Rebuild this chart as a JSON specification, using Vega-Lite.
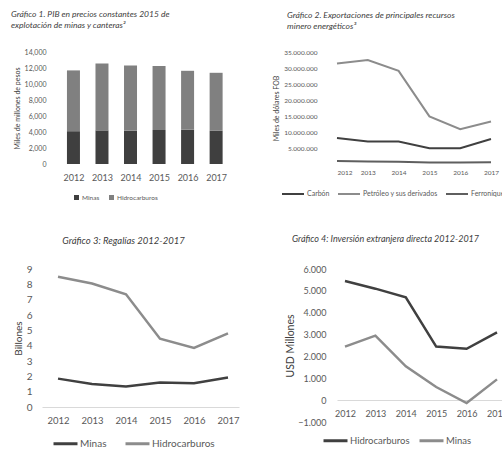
{
  "$schema": "https://vega.github.io/schema/vega-lite/v6.json",
  "background": "white",
  "padding": {"left": 11, "top": 9, "right": 0, "bottom": 0},
  "config": {
    "font": "Lato",
    "view": {"stroke": null},
    "axis": {"labelColor": "#595959", "titleColor": "#404040", "grid": false, "ticks": false, "domain": false, "labelFont": "Lato", "titleFont": "Lato", "titleFontWeight": "normal"},
    "title": {"font": "Lato", "fontStyle": "italic", "fontWeight": "normal", "color": "#404040", "frame": "group"},
    "legend": {"labelColor": "#595959", "labelFont": "Lato"}
  },
  "datasets": {
    "pib": [
      {"anio": 2012, "serie": "Minas", "valor": 4100}, {"anio": 2012, "serie": "Hidrocarburos", "valor": 7600},
      {"anio": 2013, "serie": "Minas", "valor": 4200}, {"anio": 2013, "serie": "Hidrocarburos", "valor": 8350},
      {"anio": 2014, "serie": "Minas", "valor": 4150}, {"anio": 2014, "serie": "Hidrocarburos", "valor": 8150},
      {"anio": 2015, "serie": "Minas", "valor": 4250}, {"anio": 2015, "serie": "Hidrocarburos", "valor": 8000},
      {"anio": 2016, "serie": "Minas", "valor": 4300}, {"anio": 2016, "serie": "Hidrocarburos", "valor": 7350},
      {"anio": 2017, "serie": "Minas", "valor": 4150}, {"anio": 2017, "serie": "Hidrocarburos", "valor": 7250}
    ],
    "exp": [
      {"anio": 2012, "serie": "Carbón", "valor": 8100000}, {"anio": 2013, "serie": "Carbón", "valor": 7000000},
      {"anio": 2014, "serie": "Carbón", "valor": 7000000}, {"anio": 2015, "serie": "Carbón", "valor": 4900000},
      {"anio": 2016, "serie": "Carbón", "valor": 4900000}, {"anio": 2017, "serie": "Carbón", "valor": 7800000},
      {"anio": 2012, "serie": "Petróleo y sus derivados", "valor": 31400000}, {"anio": 2013, "serie": "Petróleo y sus derivados", "valor": 32500000},
      {"anio": 2014, "serie": "Petróleo y sus derivados", "valor": 29100000}, {"anio": 2015, "serie": "Petróleo y sus derivados", "valor": 14900000},
      {"anio": 2016, "serie": "Petróleo y sus derivados", "valor": 10900000}, {"anio": 2017, "serie": "Petróleo y sus derivados", "valor": 13300000},
      {"anio": 2012, "serie": "Ferroníquel", "valor": 900000}, {"anio": 2013, "serie": "Ferroníquel", "valor": 750000},
      {"anio": 2014, "serie": "Ferroníquel", "valor": 700000}, {"anio": 2015, "serie": "Ferroníquel", "valor": 500000},
      {"anio": 2016, "serie": "Ferroníquel", "valor": 450000}, {"anio": 2017, "serie": "Ferroníquel", "valor": 550000}
    ],
    "reg": [
      {"anio": 2012, "serie": "Minas", "valor": 1.85}, {"anio": 2013, "serie": "Minas", "valor": 1.5},
      {"anio": 2014, "serie": "Minas", "valor": 1.33}, {"anio": 2015, "serie": "Minas", "valor": 1.6},
      {"anio": 2016, "serie": "Minas", "valor": 1.55}, {"anio": 2017, "serie": "Minas", "valor": 1.92},
      {"anio": 2012, "serie": "Hidrocarburos", "valor": 8.5}, {"anio": 2013, "serie": "Hidrocarburos", "valor": 8.05},
      {"anio": 2014, "serie": "Hidrocarburos", "valor": 7.35}, {"anio": 2015, "serie": "Hidrocarburos", "valor": 4.45},
      {"anio": 2016, "serie": "Hidrocarburos", "valor": 3.85}, {"anio": 2017, "serie": "Hidrocarburos", "valor": 4.8}
    ],
    "ied": [
      {"anio": 2012, "serie": "Hidrocarburos", "valor": 5450}, {"anio": 2013, "serie": "Hidrocarburos", "valor": 5100},
      {"anio": 2014, "serie": "Hidrocarburos", "valor": 4700}, {"anio": 2015, "serie": "Hidrocarburos", "valor": 2450},
      {"anio": 2016, "serie": "Hidrocarburos", "valor": 2350}, {"anio": 2017, "serie": "Hidrocarburos", "valor": 3100},
      {"anio": 2012, "serie": "Minas", "valor": 2450}, {"anio": 2013, "serie": "Minas", "valor": 2950},
      {"anio": 2014, "serie": "Minas", "valor": 1550}, {"anio": 2015, "serie": "Minas", "valor": 600},
      {"anio": 2016, "serie": "Minas", "valor": -130}, {"anio": 2017, "serie": "Minas", "valor": 950}
    ]
  },
  "columns": 2,
  "align": "none",
  "bounds": "flush",
  "spacing": {"row": 105, "column": 98},
  "resolve": {"scale": {"color": "independent"}, "legend": {"color": "independent"}},
  "concat": [
    {
      "width": 181, "height": 112,
      "title": {"text": ["Gráfico 1. PIB en precios constantes 2015 de", "explotación de minas y canteras²"], "anchor": "start", "dx": -31, "fontSize": 8.5, "lineHeight": 11, "offset": 19},
      "data": {"name": "pib"},
      "mark": {"type": "bar", "size": 13},
      "encoding": {
        "x": {"field": "anio", "type": "quantitative", "scale": {"domain": [2011.073, 2017.066], "nice": false, "zero": false},
              "axis": {"values": [2012, 2013, 2014, 2015, 2016, 2017], "format": "d", "title": null, "labelFontSize": 9, "labelPadding": 9}},
        "y": {"field": "valor", "type": "quantitative", "stack": "zero", "scale": {"domain": [0, 14000], "nice": false},
              "axis": {"values": [0, 2000, 4000, 6000, 8000, 10000, 12000, 14000], "format": ",d", "title": "Miles de millones de pesos", "labelFontSize": 7, "titleFontSize": 7, "offset": -6, "labelPadding": 2, "titlePadding": 4}},
        "color": {"field": "serie", "type": "nominal", "scale": {"domain": ["Minas", "Hidrocarburos"], "range": ["#3f3f3f", "#808080"]},
                  "legend": {"orient": "none", "legendX": 31, "legendY": 142, "direction": "horizontal", "title": null, "symbolType": "square", "symbolSize": 25, "labelFontSize": 6.5, "columnPadding": 8, "labelOffset": 2}},
        "order": {"field": "serie", "sort": "descending"}
      }
    },
    {
      "width": 180, "height": 112,
      "title": {"text": ["Gráfico 2. Exportaciones de principales recursos", "minero energéticos³"], "anchor": "start", "dx": -50, "fontSize": 8.5, "lineHeight": 11, "offset": 19},
      "data": {"name": "exp"},
      "mark": {"type": "line", "strokeWidth": 2},
      "encoding": {
        "x": {"field": "anio", "type": "quantitative", "scale": {"domain": [2012, 2017.844], "nice": false, "zero": false},
              "axis": {"values": [2012, 2013, 2014, 2015, 2016, 2017], "format": "d", "title": null, "labelFontSize": 6.5, "labelPadding": 5}},
        "y": {"field": "valor", "type": "quantitative", "scale": {"domain": [0, 35000000], "nice": false},
              "axis": {"values": [5000000, 10000000, 15000000, 20000000, 25000000, 30000000, 35000000], "labelExpr": "replace(format(datum.value, ','), regexp(',', 'g'), '.')", "title": "Miles de dólares FOB", "labelFontSize": 6.5, "titleFontSize": 7, "labelPadding": 20, "titlePadding": 4}},
        "color": {"field": "serie", "type": "nominal", "scale": {"domain": ["Carbón", "Petróleo y sus derivados", "Ferroníquel"], "range": ["#404040", "#8c8c8c", "#5f5f5f"]},
                  "legend": {"orient": "none", "legendX": -56, "legendY": 130, "direction": "horizontal", "title": null, "symbolSize": 484, "symbolStrokeWidth": 2, "labelFontSize": 7, "columnPadding": 4, "labelOffset": 2}}
      }
    },
    {
      "width": 197, "height": 138,
      "title": {"text": "Gráfico 3: Regalías 2012-2017", "anchor": "middle", "dx": -17, "fontSize": 9.5, "offset": 19},
      "data": {"name": "reg"},
      "mark": {"type": "line", "strokeWidth": 2.5},
      "encoding": {
        "x": {"field": "anio", "type": "quantitative", "scale": {"domain": [2011.529, 2017.324], "nice": false, "zero": false},
              "axis": {"values": [2012, 2013, 2014, 2015, 2016, 2017], "format": "d", "title": null, "labelFontSize": 9.5, "labelPadding": 8, "domain": true, "domainColor": "#d9d9d9"}},
        "y": {"field": "valor", "type": "quantitative", "scale": {"domain": [0, 9], "nice": false},
              "axis": {"values": [0, 1, 2, 3, 4, 5, 6, 7, 8, 9], "title": "Billones", "labelFontSize": 10, "titleFontSize": 10, "labelPadding": 10, "titlePadding": 3}},
        "color": {"field": "serie", "type": "nominal", "scale": {"domain": ["Minas", "Hidrocarburos"], "range": ["#404040", "#8c8c8c"]},
                  "legend": {"orient": "none", "legendX": 10, "legendY": 161, "direction": "horizontal", "title": null, "symbolSize": 576, "symbolStrokeWidth": 3, "labelFontSize": 10, "columnPadding": 12, "labelOffset": 1}}
      }
    },
    {
      "width": 180, "height": 153,
      "title": {"text": "Gráfico 4: Inversión extranjera directa 2012-2017", "anchor": "start", "dx": -45, "fontSize": 9, "offset": 21},
      "data": {"name": "ied"},
      "mark": {"type": "line", "strokeWidth": 2.5},
      "encoding": {
        "x": {"field": "anio", "type": "quantitative", "scale": {"domain": [2011.737, 2017.658], "nice": false, "zero": false},
              "axis": {"values": [2012, 2013, 2014, 2015, 2016, 2017], "format": "d", "title": null, "labelFontSize": 9, "labelPadding": 9, "offset": -22, "domain": true, "domainColor": "#d9d9d9"}},
        "y": {"field": "valor", "type": "quantitative", "scale": {"domain": [-1000, 6000], "nice": false},
              "axis": {"values": [-1000, 0, 1000, 2000, 3000, 4000, 5000, 6000], "labelExpr": "replace(format(datum.value, ','), regexp(',', 'g'), '.')", "title": "USD Millones", "labelFontSize": 9, "titleFontSize": 10.5, "labelPadding": 11, "titlePadding": 2}},
        "color": {"field": "serie", "type": "nominal", "scale": {"domain": ["Hidrocarburos", "Minas"], "range": ["#404040", "#8c8c8c"]},
                  "legend": {"orient": "none", "legendX": -15, "legendY": 158, "direction": "horizontal", "title": null, "symbolSize": 576, "symbolStrokeWidth": 3, "labelFontSize": 9.5, "columnPadding": 3, "labelOffset": 1}}
      }
    }
  ]
}
